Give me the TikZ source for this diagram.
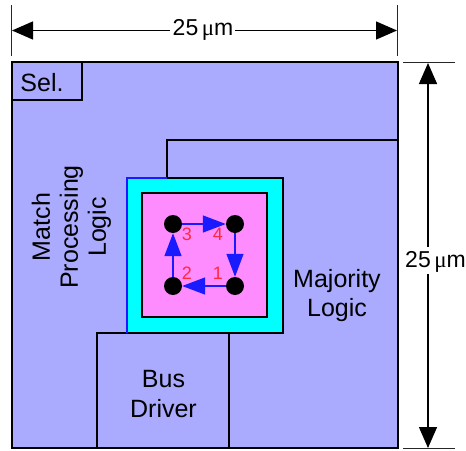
\documentclass[tikz,border=0pt]{standalone}
\usepackage{fontspec}
\setmainfont{Liberation Sans}
\newfontfamily\symfont{Liberation Serif}
\usetikzlibrary{arrows.meta}
\tikzset{
  x=1pt,y=-1pt,
  region/.style={draw=black,line width=1.6pt},
  outer/.style={draw=black,fill=regionblue,line width=2.6pt},
  thin tick/.style={draw=black!85,line width=0.7pt},
  dim/.style={draw=black,line width=1.4pt,-{Triangle[length=21pt,width=18pt]}},
  flow/.style={draw=flowblue,line width=1.5pt,-{Triangle[length=23pt,width=17pt]}},
  dot/.style={circle,fill=black,inner sep=0pt,minimum size=18pt},
  lab/.style={font=\fontsize{25}{29}\selectfont,align=center,inner sep=0pt},
  dimlab/.style={font=\fontsize{23}{26}\selectfont,inner sep=0pt},
  num/.style={font=\fontsize{18}{20}\selectfont,text=numred,inner sep=0pt},
}
\definecolor{regionblue}{RGB}{170,170,255}
\definecolor{flowblue}{RGB}{26,26,255}
\definecolor{numred}{RGB}{255,40,60}
\definecolor{pinkfill}{RGB}{255,140,255}
\definecolor{cyanfill}{RGB}{0,255,255}
\newcommand{\umlabel}{25\hspace{3.5pt}{\symfont μ}m}
\begin{document}
\begin{tikzpicture}
\useasboundingbox (0,0) rectangle (466,450);
\draw[outer] (12,62) rectangle (398,448);
\coordinate (mjA) at (167,178);
\coordinate (mjB) at (167,140);
\coordinate (mjC) at (398,140);
\draw[region] (mjA) -- (mjB) -- (mjC);
\draw[region] (97,448) -- (97,333) -- (229,333) -- (229,448);
\draw[region] (12,100) -- (82,100) -- (82,62);
\fill[cyanfill] (127,178) rectangle (283,333);
\draw[region] (167,178) -- (283,178) -- (283,333) -- (97,333);
\draw[draw=flowblue,line width=1.6pt] (167,178) -- (127,178) -- (127,333);
\draw[draw=black,fill=pinkfill,line width=1.6pt] (142,193) rectangle (267,317);
\node[dot] (d3) at (173,224) {};
\node[dot] (d4) at (235,224) {};
\node[dot] (d2) at (173,286) {};
\node[dot] (d1) at (235,286) {};
\draw[flow] (d3) -- (d4);
\draw[flow] (d4) -- (d1);
\draw[flow] (d1) -- (d2);
\draw[flow] (d2) -- (d3);
\node[num] (n3) at (187,234) {3};
\node[num] (n4) at (218,234) {4};
\node[num] (n2) at (187,273) {2};
\node[num] (n1) at (218,273) {1};
\node[lab] (sel) at (42,83) {Sel.};
\node[lab,rotate=90] (match) at (71.5,227) {Match\\[-1pt]Processing\\[-1pt]Logic};
\node[lab] (maj) at (337,296) {Majority\\Logic};
\node[lab] (bus) at (163.5,394) {Bus\\[1pt]Driver};
\coordinate (t1a) at (11,5); \coordinate (t1b) at (11,56);
\coordinate (t2a) at (397,5); \coordinate (t2b) at (397,56);
\coordinate (t3a) at (403,62); \coordinate (t3b) at (455,62);
\coordinate (t4a) at (403,448); \coordinate (t4b) at (455,448);
\draw[thin tick] (t1a) -- (t1b);
\draw[thin tick] (t2a) -- (t2b);
\draw[thin tick] (t3a) -- (t3b);
\draw[thin tick] (t4a) -- (t4b);
\coordinate (hl) at (12,30.5);
\coordinate (hr) at (397,30.5);
\coordinate (vt) at (428,63);
\coordinate (vb) at (428,448);
\coordinate (vgt) at (428,247);
\coordinate (vgb) at (428,274);
\coordinate (hgl) at (170,30.5);
\coordinate (hgr) at (235,30.5);
\node[dimlab] (hlab) at (203,30) {\umlabel};
\node[dimlab] (vlab) at (435.5,262) {\umlabel};
\draw[dim] (vgt) -- (vt);
\draw[dim] (vgb) -- (vb);
\draw[dim] (hgl) -- (hl);
\draw[dim] (hgr) -- (hr);
\end{tikzpicture}
\end{document}
